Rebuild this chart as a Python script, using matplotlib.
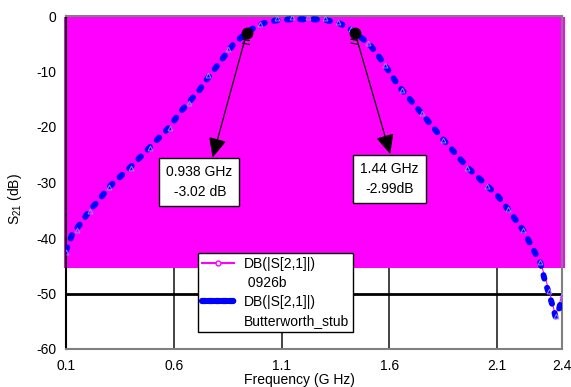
import matplotlib
matplotlib.use("Agg")
import matplotlib.pyplot as plt
from matplotlib.lines import Line2D
from matplotlib.patches import Rectangle

plt.rcParams['font.family'] = ['Liberation Sans', 'DejaVu Sans']
plt.rcParams['mathtext.default'] = 'regular'
plt.rcParams['axes.unicode_minus'] = False

# Butterworth_stub S21 (dB)
freq_b = [0.10, 0.13, 0.17, 0.21, 0.25, 0.30, 0.40, 0.49, 0.58, 0.63, 0.72, 0.74,
          0.81, 0.88, 0.938, 0.98, 1.03, 1.09, 1.15, 1.20, 1.25, 1.30, 1.36, 1.40,
          1.44, 1.51, 1.56, 1.60, 1.64, 1.71, 1.78, 1.85, 1.96, 2.05, 2.10, 2.145,
          2.22, 2.30, 2.32, 2.355, 2.37, 2.385, 2.40]
s21_b = [-42.3, -39.2, -37.3, -35.0, -33.3, -30.8, -27.2, -23.6, -20.0, -17.3, -13.3, -12.1,
         -8.5, -4.9, -3.02, -1.9, -1.1, -0.7, -0.6, -0.6, -0.6, -0.7, -1.2, -1.9,
         -2.99, -5.2, -7.8, -10.1, -12.5, -15.7, -19.0, -22.3, -27.2, -30.5, -32.3, -34.6,
         -38.6, -44.5, -47.6, -52.0, -54.2, -53.0, -50.6]

# 0926b S21 (dB)
freq_p = [0.10, 0.15, 0.21, 0.30, 0.40, 0.49, 0.58, 0.67, 0.76, 0.85, 0.94, 1.00,
          1.08, 1.15, 1.22, 1.30, 1.36, 1.42, 1.50, 1.58, 1.66, 1.75, 1.85, 1.96,
          2.05, 2.15, 2.22, 2.30, 2.34, 2.37, 2.40]
s21_p = [-42.6, -38.6, -35.2, -30.9, -27.3, -23.7, -20.1, -15.6, -10.6, -5.9, -2.9, -1.4,
         -0.4, -0.2, -0.2, -0.4, -1.0, -2.4, -4.8, -8.8, -13.3, -17.4, -22.3, -27.3,
         -30.6, -34.8, -38.5, -44.3, -49.5, -54.0, -50.3]

marker_f = [0.938, 1.44]
marker_db = [-3.02, -2.99]
marker_labels = ["0.938 GHz\n -3.02 dB", "1.44 GHz\n-2.99dB"]

xticks = [0.1, 0.6, 1.1, 1.6, 2.1, 2.4]
yticks = [0, -10, -20, -30, -40, -50, -60]

fig = plt.figure(figsize=(5.71, 3.87), dpi=100)
ax = fig.add_axes([66/571, 1-349/387, 496/571, 333/387])
ax.set_xlim(0.1, 2.4)
ax.set_ylim(-60, 0)
ax.set_xticks(xticks)
ax.set_xticklabels([str(t) for t in xticks])
ax.set_yticks(yticks)
ax.tick_params(axis='both', length=0, labelsize=10)
ax.tick_params(axis='x', pad=7.5)
ax.tick_params(axis='y', pad=7)

# grid
for xv in [0.6, 1.1, 1.6, 2.1]:
    ax.axvline(xv, color='#222222', lw=1.2, zorder=1)
ax.axhline(-50, color='black', lw=2.0, zorder=1)
for sp in ['top', 'right', 'bottom']:
    ax.spines[sp].set_color('#808080')
    ax.spines[sp].set_linewidth(1.5)
ax.spines['left'].set_color('black')
ax.spines['left'].set_linewidth(1.5)

# magenta region
ax.add_patch(Rectangle((0.09, -45.4), 2.325, 45.2, facecolor='#FF00FF',
                       edgecolor='none', zorder=2, clip_on=False))

ax.plot(freq_p, s21_p, color='#FF00FF', lw=0.8, zorder=3)
ax.plot(freq_b, s21_b, color='#0000FF', lw=4.3, linestyle=(0, (0.6, 1.6)),
        dash_capstyle='round', zorder=4)
ax.plot(freq_p, s21_p, linestyle='none', marker='^', markersize=3.5,
        markerfacecolor='none', markeredgecolor='#9a80ff', markeredgewidth=0.7, zorder=5)

# markers
ax.plot(marker_f, marker_db, 'o', color='black', markersize=7.5, zorder=6)
for f, d in zip(marker_f, marker_db):
    for dd in [1.3, 2.0]:
        ax.plot([f - 0.018, f + 0.012], [d - dd + 0.1, d - dd - 0.1], color='black', lw=0.9, zorder=6)

text_pos = [(0.715, -29.9), (1.600, -29.3)]
relpos = [(0.68, 1.0), (0.55, 1.0)]
for f, d, lab, tp, rp in zip(marker_f, marker_db, marker_labels, text_pos, relpos):
    ax.annotate(lab, xy=(f, d), xytext=tp, ha='center', va='center', fontsize=10,
                linespacing=1.55, zorder=7,
                bbox=dict(boxstyle='square,pad=0.5', facecolor='white', edgecolor='black', lw=1),
                arrowprops=dict(arrowstyle='<|-,head_length=1.2,head_width=0.55', color='black',
                                lw=0.9, relpos=rp, shrinkA=0, shrinkB=4))

# legend
handles = [Line2D([], [], color='#FF00FF', lw=1.5, marker='o', markersize=3.5,
                  markerfacecolor='white', markeredgecolor='#FF00FF'),
           Line2D([], [], color='none'),
           Line2D([], [], color='#0000FF', lw=4.5, linestyle=(0, (0.6, 0.5)), dash_capstyle='round'),
           Line2D([], [], color='none')]
labels = ["DB(|S[2,1]|)", " 0926b", "DB(|S[2,1]|)", "Butterworth_stub"]
leg = ax.legend(handles, labels, loc='upper left', bbox_to_anchor=(0.266, 0.288),
                frameon=True, fancybox=False, framealpha=1, edgecolor='black',
                fontsize=10, handlelength=2.3, handletextpad=0.7, labelspacing=0.35,
                borderpad=0.3, borderaxespad=0)
leg.get_frame().set_linewidth(1.0)
leg.set_zorder(8)

ax.set_xlabel("Frequency (G Hz)", fontsize=10)
ax.xaxis.set_label_coords(0.47, -0.071)
ax.set_ylabel("S$_{21}$ (dB)", fontsize=10)
ax.yaxis.set_label_coords(-0.085, 0.45)

fig.savefig("out.png", dpi=100)
